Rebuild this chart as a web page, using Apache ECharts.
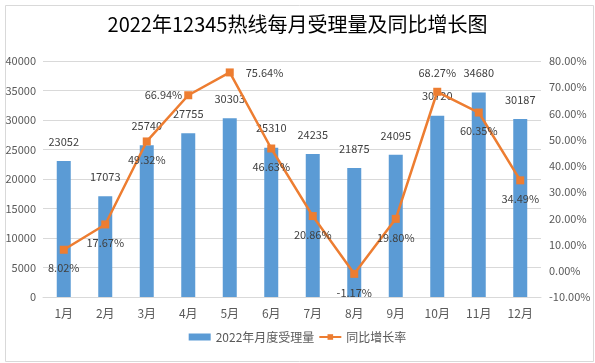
<!DOCTYPE html>
<html>
<head>
<meta charset="utf-8">
<script src="https://cdn.jsdelivr.net/npm/echarts@6/dist/echarts.min.js"></script>
<style>
html,body{margin:0;padding:0;background:#fff;}
#chart{width:595px;height:363px;}
</style>
</head>
<body>
<div id="chart"></div>
<script>
const titleText = '2022年12345热线每月受理量及同比增长图';
const months = ['1月','2月','3月','4月','5月','6月','7月','8月','9月','10月','11月','12月'];
const volume = [23052, 17073, 25740, 27755, 30303, 25310, 24235, 21875, 24095, 30720, 34680, 30187];
const growth = [8.02, 17.67, 49.32, 66.94, 75.64, 46.63, 20.86, -1.17, 19.80, 68.27, 60.35, 34.49];
const growthLabelPos = ['bottom','bottom','bottom','left','right','bottom','bottom','bottom','bottom','top','bottom','bottom'];
const seriesNames = ['2022年月度受理量', '同比增长率'];

const chart = echarts.init(document.getElementById('chart'), null, {renderer: 'canvas'});
const labelFont = 'Liberation Sans Narrow, Noto Sans CJK SC, sans-serif';
chart.setOption({
  animation: false,
  backgroundColor: '#fff',
  title: {
    text: titleText,
    left: 'center',
    top: 9,
    textStyle: {fontFamily: 'Noto Sans CJK SC, serif', fontSize: 20, fontWeight: 'normal', color: '#000'}
  },
  graphic: [{
    type: 'rect', left: 3, top: 3,
    shape: {width: 588, height: 356},
    style: {fill: 'none', stroke: '#d9d9d9', lineWidth: 1},
    silent: true
  }],
  legend: {
    bottom: 15,
    left: 'center',
    itemGap: 4,
    itemWidth: 22,
    itemHeight: 7,
    textStyle: {fontFamily: labelFont, fontSize: 12, color: '#595959'},
    data: [
      {name: seriesNames[0], icon: 'rect'},
      {name: seriesNames[1]}
    ]
  },
  grid: {left: 43, right: 54, top: 61, bottom: 66, containLabel: false},
  xAxis: {
    type: 'category',
    data: months,
    axisLine: {lineStyle: {color: '#d9d9d9'}},
    axisTick: {show: false},
    axisLabel: {fontFamily: labelFont, fontSize: 12, color: '#595959', margin: 10}
  },
  yAxis: [{
    type: 'value', min: 0, max: 40000, interval: 5000,
    axisLine: {show: false}, axisTick: {show: false},
    splitLine: {lineStyle: {color: '#d9d9d9'}},
    axisLabel: {fontFamily: labelFont, fontSize: 11, color: '#595959', margin: 7,
      formatter: v => String(v)}
  }, {
    type: 'value', min: -10, max: 80, interval: 10,
    axisLine: {show: false}, axisTick: {show: false},
    splitLine: {show: false},
    axisLabel: {fontFamily: labelFont, fontSize: 11, color: '#595959', margin: 8,
      formatter: v => v.toFixed(2) + '%'}
  }],
  series: [{
    name: seriesNames[0],
    type: 'bar',
    data: volume,
    barWidth: 14,
    itemStyle: {color: '#5B9BD5'},
    label: {show: true, position: 'top', distance: 14, fontFamily: labelFont, fontSize: 11, color: '#404040'}
  }, {
    name: seriesNames[1],
    type: 'line',
    yAxisIndex: 1,
    data: growth.map((v, i) => ({
      value: v,
      label: {position: growthLabelPos[i], distance: growthLabelPos[i] === 'right' ? 12 : (growthLabelPos[i] === 'left' ? 2 : 9)}
    })),
    symbol: 'rect',
    symbolSize: 8,
    lineStyle: {color: '#ED7D31', width: 2.5},
    itemStyle: {color: '#ED7D31'},
    label: {show: true, fontFamily: labelFont, fontSize: 11, color: '#404040',
      formatter: p => p.value.toFixed(2) + '%'},
    z: 3
  }]
});
</script>
</body>
</html>
